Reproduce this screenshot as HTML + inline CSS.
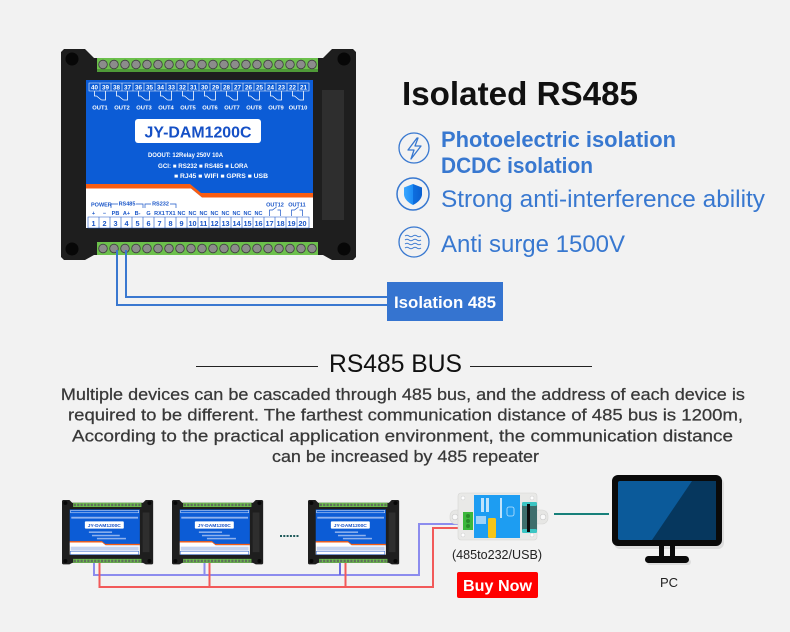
<!DOCTYPE html>
<html><head><meta charset="utf-8"><style>
html,body{margin:0;padding:0;background:#f2f2f2;}
svg{display:block;}
text{font-family:"Liberation Sans",sans-serif;}
</style></head><body>
<svg width="790" height="632" viewBox="0 0 790 632" xmlns="http://www.w3.org/2000/svg">
<rect width="790" height="632" fill="#f2f2f2"/>

<!-- MAIN DEVICE -->
<g transform="translate(61,49)">
<polygon points="0,3 3,0 24,0 33,9 262,9 271,0 292,0 295,3 295,208 292,211 271,211 262,206 33,206 24,211 3,211 0,208" fill="#1e1e1e"/>
<circle cx="11" cy="10" r="6.5" fill="#070707"/><circle cx="283" cy="10" r="6.5" fill="#070707"/>
<circle cx="11" cy="200" r="6.5" fill="#070707"/><circle cx="283" cy="200" r="6.5" fill="#070707"/>
<rect x="261" y="41" width="22" height="130" fill="#2e2e2e"/>
<rect x="36" y="9" width="221" height="14" fill="#6cc04c"/>
<rect x="36" y="20" width="221" height="3" fill="#4f9a38"/>
<g fill="#8c8c8c" stroke="#3e3e3e" stroke-width="0.8">
<circle cx="42" cy="15.5" r="4.3"/><circle cx="53" cy="15.5" r="4.3"/><circle cx="64" cy="15.5" r="4.3"/><circle cx="75" cy="15.5" r="4.3"/><circle cx="86" cy="15.5" r="4.3"/><circle cx="97" cy="15.5" r="4.3"/><circle cx="108" cy="15.5" r="4.3"/><circle cx="119" cy="15.5" r="4.3"/><circle cx="130" cy="15.5" r="4.3"/><circle cx="141" cy="15.5" r="4.3"/><circle cx="152" cy="15.5" r="4.3"/><circle cx="163" cy="15.5" r="4.3"/><circle cx="174" cy="15.5" r="4.3"/><circle cx="185" cy="15.5" r="4.3"/><circle cx="196" cy="15.5" r="4.3"/><circle cx="207" cy="15.5" r="4.3"/><circle cx="218" cy="15.5" r="4.3"/><circle cx="229" cy="15.5" r="4.3"/><circle cx="240" cy="15.5" r="4.3"/><circle cx="251" cy="15.5" r="4.3"/>
</g>
<rect x="36" y="193" width="221" height="13" fill="#6cc04c"/>
<g fill="#8c8c8c" stroke="#3e3e3e" stroke-width="0.8">
<circle cx="42" cy="199.5" r="4.3"/><circle cx="53" cy="199.5" r="4.3"/><circle cx="64" cy="199.5" r="4.3"/><circle cx="75" cy="199.5" r="4.3"/><circle cx="86" cy="199.5" r="4.3"/><circle cx="97" cy="199.5" r="4.3"/><circle cx="108" cy="199.5" r="4.3"/><circle cx="119" cy="199.5" r="4.3"/><circle cx="130" cy="199.5" r="4.3"/><circle cx="141" cy="199.5" r="4.3"/><circle cx="152" cy="199.5" r="4.3"/><circle cx="163" cy="199.5" r="4.3"/><circle cx="174" cy="199.5" r="4.3"/><circle cx="185" cy="199.5" r="4.3"/><circle cx="196" cy="199.5" r="4.3"/><circle cx="207" cy="199.5" r="4.3"/><circle cx="218" cy="199.5" r="4.3"/><circle cx="229" cy="199.5" r="4.3"/><circle cx="240" cy="199.5" r="4.3"/><circle cx="251" cy="199.5" r="4.3"/>
</g>
<rect x="25" y="31" width="227" height="118" fill="#0c5cd6"/>
<polygon points="25,135 129,135 140,144 252,144 252,148.5 141,148.5 130,139.5 25,139.5" fill="#f95d12"/>
<polygon points="25,139.5 130,139.5 141,148.5 252,148.5 252,179 25,179" fill="#ffffff"/>
<path d="M28,34h220v8h-220z M39,34v8M50,34v8M61,34v8M72,34v8M83,34v8M94,34v8M105,34v8M116,34v8M127,34v8M138,34v8M149,34v8M160,34v8M171,34v8M182,34v8M193,34v8M204,34v8M215,34v8M226,34v8M237,34v8" fill="none" stroke="#fff" stroke-width="0.6"/>
<text y="40.6" font-size="6.3" font-weight="bold" fill="#fff" text-anchor="middle"><tspan x="33.5">40</tspan><tspan x="44.5">39</tspan><tspan x="55.5">38</tspan><tspan x="66.5">37</tspan><tspan x="77.5">36</tspan><tspan x="88.5">35</tspan><tspan x="99.5">34</tspan><tspan x="110.5">33</tspan><tspan x="121.5">32</tspan><tspan x="132.5">31</tspan><tspan x="143.5">30</tspan><tspan x="154.5">29</tspan><tspan x="165.5">28</tspan><tspan x="176.5">27</tspan><tspan x="187.5">26</tspan><tspan x="198.5">25</tspan><tspan x="209.5">24</tspan><tspan x="220.5">23</tspan><tspan x="231.5">22</tspan><tspan x="242.5">21</tspan></text>
<path d="M33.5,42V47h2l5,4M44.5,42V51h-4 M55.5,42V47h2l5,4M66.5,42V51h-4 M77.5,42V47h2l5,4M88.5,42V51h-4 M99.5,42V47h2l5,4M110.5,42V51h-4 M121.5,42V47h2l5,4M132.5,42V51h-4 M143.5,42V47h2l5,4M154.5,42V51h-4 M165.5,42V47h2l5,4M176.5,42V51h-4 M187.5,42V47h2l5,4M198.5,42V51h-4 M209.5,42V47h2l5,4M220.5,42V51h-4 M231.5,42V47h2l5,4M242.5,42V51h-4" fill="none" stroke="#fff" stroke-width="0.8"/>
<text y="60.5" font-size="5.8" font-weight="bold" fill="#fff" text-anchor="middle"><tspan x="39">OUT1</tspan><tspan x="61">OUT2</tspan><tspan x="83">OUT3</tspan><tspan x="105">OUT4</tspan><tspan x="127">OUT5</tspan><tspan x="149">OUT6</tspan><tspan x="171">OUT7</tspan><tspan x="193">OUT8</tspan><tspan x="215">OUT9</tspan><tspan x="237">OUT10</tspan></text>
<rect x="74" y="70" width="126" height="24" rx="3" fill="#fff"/>
<text x="137" y="88.5" font-size="16" font-weight="bold" fill="#1550c6" text-anchor="middle" textLength="107" lengthAdjust="spacingAndGlyphs">JY-DAM1200C</text>
<text x="87" y="108" font-size="6" font-weight="bold" fill="#fff" textLength="75" lengthAdjust="spacingAndGlyphs">DOOUT: 12Relay 250V 10A</text>
<text x="97" y="119" font-size="6" font-weight="bold" fill="#fff" textLength="90" lengthAdjust="spacingAndGlyphs">GCI: ■ RS232 ■ RS485 ■ LORA</text>
<text x="113" y="129" font-size="6" font-weight="bold" fill="#fff" textLength="94" lengthAdjust="spacingAndGlyphs">■ RJ45 ■ WIFI ■ GPRS ■ USB</text>
<g fill="#1a56c8" font-weight="bold" font-size="5.5">
<text x="30" y="157.5">POWER</text>
<text x="66" y="156.5" text-anchor="middle">RS485</text>
<text x="99.5" y="156.5" text-anchor="middle">RS232</text>
<text x="214" y="157.5" text-anchor="middle">OUT12</text>
<text x="236" y="157.5" text-anchor="middle">OUT11</text>
<text y="166" text-anchor="middle"><tspan x="32.5">+</tspan><tspan x="43.5">−</tspan><tspan x="54.5">PB</tspan><tspan x="65.5">A+</tspan><tspan x="76.5">B-</tspan><tspan x="87.5">G</tspan><tspan x="98.5">RX1</tspan><tspan x="109.5">TX1</tspan><tspan x="120.5">NC</tspan><tspan x="131.5">NC</tspan><tspan x="142.5">NC</tspan><tspan x="153.5">NC</tspan><tspan x="164.5">NC</tspan><tspan x="175.5">NC</tspan><tspan x="186.5">NC</tspan><tspan x="197.5">NC</tspan></text>
</g>
<path d="M50,159V155H57M75,155H82V159M84,159V155H90M109,155H115V159 M208.5,167V161h3l4,-3M219.5,167V161h-3M230.5,167V161h3l4,-3M241.5,167V161h-3" fill="none" stroke="#1a56c8" stroke-width="0.7"/>
<path d="M27,168h221v11h-221z M38,168v11M49,168v11M60,168v11M71,168v11M82,168v11M93,168v11M104,168v11M115,168v11M126,168v11M137,168v11M148,168v11M159,168v11M170,168v11M181,168v11M192,168v11M203,168v11M214,168v11M225,168v11M236,168v11" fill="none" stroke="#1a56c8" stroke-width="0.6"/>
<text y="176.8" font-size="7.3" font-weight="bold" fill="#1a56c8" text-anchor="middle"><tspan x="32.5">1</tspan><tspan x="43.5">2</tspan><tspan x="54.5">3</tspan><tspan x="65.5">4</tspan><tspan x="76.5">5</tspan><tspan x="87.5">6</tspan><tspan x="98.5">7</tspan><tspan x="109.5">8</tspan><tspan x="120.5">9</tspan><tspan x="131.5">10</tspan><tspan x="142.5">11</tspan><tspan x="153.5">12</tspan><tspan x="164.5">13</tspan><tspan x="175.5">14</tspan><tspan x="186.5">15</tspan><tspan x="197.5">16</tspan><tspan x="208.5">17</tspan><tspan x="219.5">18</tspan><tspan x="230.5">19</tspan><tspan x="241.5">20</tspan></text>
</g>

<!-- main wires -->
<polyline points="117,250 117,305 388,305" fill="none" stroke="#3a78d0" stroke-width="2"/>
<polyline points="126,250 126,297 388,297" fill="none" stroke="#3a78d0" stroke-width="2"/>
<rect x="387" y="282" width="116" height="39" fill="#3574d0"/>
<text x="445" y="308" font-size="17" font-weight="bold" fill="#fff" text-anchor="middle" textLength="102" lengthAdjust="spacingAndGlyphs">Isolation 485</text>

<!-- right texts -->
<text x="402" y="105" font-size="33" font-weight="bold" fill="#111" textLength="236" lengthAdjust="spacingAndGlyphs">Isolated RS485</text>
<circle cx="414" cy="148" r="15" fill="none" stroke="#3878d0" stroke-width="1.3"/>
<path d="M417,138 L408,150 L414,150 L411,159 L421,146 L415,146 L418,138 Z" fill="none" stroke="#3878d0" stroke-width="1.3" stroke-linejoin="round"/>
<text x="441" y="147" font-size="22" font-weight="bold" fill="#3878d0" textLength="235" lengthAdjust="spacingAndGlyphs">Photoelectric isolation</text>
<text x="441" y="173" font-size="22" font-weight="bold" fill="#3878d0" textLength="152" lengthAdjust="spacingAndGlyphs">DCDC isolation</text>
<defs><linearGradient id="sg" x1="0" y1="0" x2="1" y2="0"><stop offset="0" stop-color="#3aa6ff"/><stop offset="0.5" stop-color="#1c8cf5"/><stop offset="0.5" stop-color="#0d6fe0"/><stop offset="1" stop-color="#0a5fd0"/></linearGradient></defs>
<circle cx="413" cy="194" r="16" fill="none" stroke="#3878d0" stroke-width="1.5"/>
<path d="M413,184 L422,187.5 L422,195 Q421,201 413,205 Q405,201 404,195 L404,187.5 Z" fill="url(#sg)"/>
<text x="441" y="207" font-size="24" fill="#3878d0" textLength="324" lengthAdjust="spacingAndGlyphs">Strong anti-interference ability</text>
<circle cx="414" cy="242" r="15" fill="none" stroke="#3878d0" stroke-width="1.3"/>
<path d="M405,236 q2,-1.5 4,0 t4,0 t4,0 t4,0 M405,240 q2,-1.5 4,0 t4,0 t4,0 t4,0 M405,244 q2,-1.5 4,0 t4,0 t4,0 t4,0 M405,248 q2,-1.5 4,0 t4,0 t4,0 t4,0" fill="none" stroke="#3878d0" stroke-width="1"/>
<text x="441" y="252" font-size="24" fill="#3878d0" textLength="184" lengthAdjust="spacingAndGlyphs">Anti surge 1500V</text>

<!-- RS485 BUS -->
<line x1="196" y1="366.5" x2="318" y2="366.5" stroke="#222" stroke-width="1"/>
<line x1="470" y1="366.5" x2="592" y2="366.5" stroke="#222" stroke-width="1"/>
<text x="395.5" y="372" font-size="25" fill="#111" text-anchor="middle" textLength="133" lengthAdjust="spacingAndGlyphs">RS485 BUS</text>

<g font-size="17" fill="#383838" stroke="#383838" stroke-width="0.25" text-anchor="middle">
<text x="402.9" y="400" textLength="684" lengthAdjust="spacingAndGlyphs">Multiple devices can be cascaded through 485 bus, and the address of each device is</text>
<text x="405.5" y="420.7" textLength="675" lengthAdjust="spacingAndGlyphs">required to be different. The farthest communication distance of 485 bus is 1200m,</text>
<text x="402.5" y="441.5" textLength="661" lengthAdjust="spacingAndGlyphs">According to the practical application environment, the communication distance</text>
<text x="405.5" y="462" textLength="267" lengthAdjust="spacingAndGlyphs">can be increased by 485 repeater</text>
</g>

<!-- small devices -->
<g transform="translate(62,500) scale(0.309,0.305)">
<polygon points="0,3 3,0 24,0 33,9 262,9 271,0 292,0 295,3 295,208 292,211 271,211 262,206 33,206 24,211 3,211 0,208" fill="#1e1e1e"/>
<rect x="36" y="9" width="221" height="14" fill="#6cc04c"/><line x1="38" y1="16" x2="256" y2="16" stroke="#5f6f5c" stroke-width="8" stroke-dasharray="7 4"/>
<rect x="36" y="193" width="221" height="13" fill="#6cc04c"/><line x1="38" y1="199.5" x2="256" y2="199.5" stroke="#5f6f5c" stroke-width="8" stroke-dasharray="7 4"/>
<rect x="261" y="41" width="22" height="130" fill="#2e2e2e"/>
<circle cx="11" cy="10" r="6.5" fill="#070707"/><circle cx="283" cy="10" r="6.5" fill="#070707"/><circle cx="11" cy="200" r="6.5" fill="#070707"/><circle cx="283" cy="200" r="6.5" fill="#070707"/>
<rect x="25" y="31" width="227" height="118" fill="#0c5cd6"/>
<polygon points="25,135 129,135 140,144 252,144 252,148.5 141,148.5 130,139.5 25,139.5" fill="#f95d12"/>
<polygon points="25,139.5 130,139.5 141,148.5 252,148.5 252,179 25,179" fill="#fff"/>
<rect x="28" y="34" width="220" height="8" fill="none" stroke="#fff" stroke-width="1.5"/>
<rect x="30" y="55" width="216" height="6" fill="#8fb2ee"/>
<rect x="74" y="70" width="126" height="24" rx="3" fill="#fff"/>
<text x="137" y="88.5" font-size="16" font-weight="bold" fill="#1550c6" text-anchor="middle" textLength="107" lengthAdjust="spacingAndGlyphs">JY-DAM1200C</text>
<rect x="87" y="103" width="75" height="5" fill="#8fb2ee"/><rect x="97" y="114" width="90" height="5" fill="#8fb2ee"/><rect x="113" y="124" width="94" height="5" fill="#8fb2ee"/>
<rect x="28" y="153" width="220" height="13" fill="#c4d2ee"/>
<rect x="27" y="168" width="221" height="11" fill="none" stroke="#1a56c8" stroke-width="1.5"/>
</g>
<g transform="translate(172,500) scale(0.309,0.305)">
<polygon points="0,3 3,0 24,0 33,9 262,9 271,0 292,0 295,3 295,208 292,211 271,211 262,206 33,206 24,211 3,211 0,208" fill="#1e1e1e"/>
<rect x="36" y="9" width="221" height="14" fill="#6cc04c"/><line x1="38" y1="16" x2="256" y2="16" stroke="#5f6f5c" stroke-width="8" stroke-dasharray="7 4"/>
<rect x="36" y="193" width="221" height="13" fill="#6cc04c"/><line x1="38" y1="199.5" x2="256" y2="199.5" stroke="#5f6f5c" stroke-width="8" stroke-dasharray="7 4"/>
<rect x="261" y="41" width="22" height="130" fill="#2e2e2e"/>
<circle cx="11" cy="10" r="6.5" fill="#070707"/><circle cx="283" cy="10" r="6.5" fill="#070707"/><circle cx="11" cy="200" r="6.5" fill="#070707"/><circle cx="283" cy="200" r="6.5" fill="#070707"/>
<rect x="25" y="31" width="227" height="118" fill="#0c5cd6"/>
<polygon points="25,135 129,135 140,144 252,144 252,148.5 141,148.5 130,139.5 25,139.5" fill="#f95d12"/>
<polygon points="25,139.5 130,139.5 141,148.5 252,148.5 252,179 25,179" fill="#fff"/>
<rect x="28" y="34" width="220" height="8" fill="none" stroke="#fff" stroke-width="1.5"/>
<rect x="30" y="55" width="216" height="6" fill="#8fb2ee"/>
<rect x="74" y="70" width="126" height="24" rx="3" fill="#fff"/>
<text x="137" y="88.5" font-size="16" font-weight="bold" fill="#1550c6" text-anchor="middle" textLength="107" lengthAdjust="spacingAndGlyphs">JY-DAM1200C</text>
<rect x="87" y="103" width="75" height="5" fill="#8fb2ee"/><rect x="97" y="114" width="90" height="5" fill="#8fb2ee"/><rect x="113" y="124" width="94" height="5" fill="#8fb2ee"/>
<rect x="28" y="153" width="220" height="13" fill="#c4d2ee"/>
<rect x="27" y="168" width="221" height="11" fill="none" stroke="#1a56c8" stroke-width="1.5"/>
</g>
<g transform="translate(308,500) scale(0.309,0.305)">
<polygon points="0,3 3,0 24,0 33,9 262,9 271,0 292,0 295,3 295,208 292,211 271,211 262,206 33,206 24,211 3,211 0,208" fill="#1e1e1e"/>
<rect x="36" y="9" width="221" height="14" fill="#6cc04c"/><line x1="38" y1="16" x2="256" y2="16" stroke="#5f6f5c" stroke-width="8" stroke-dasharray="7 4"/>
<rect x="36" y="193" width="221" height="13" fill="#6cc04c"/><line x1="38" y1="199.5" x2="256" y2="199.5" stroke="#5f6f5c" stroke-width="8" stroke-dasharray="7 4"/>
<rect x="261" y="41" width="22" height="130" fill="#2e2e2e"/>
<circle cx="11" cy="10" r="6.5" fill="#070707"/><circle cx="283" cy="10" r="6.5" fill="#070707"/><circle cx="11" cy="200" r="6.5" fill="#070707"/><circle cx="283" cy="200" r="6.5" fill="#070707"/>
<rect x="25" y="31" width="227" height="118" fill="#0c5cd6"/>
<polygon points="25,135 129,135 140,144 252,144 252,148.5 141,148.5 130,139.5 25,139.5" fill="#f95d12"/>
<polygon points="25,139.5 130,139.5 141,148.5 252,148.5 252,179 25,179" fill="#fff"/>
<rect x="28" y="34" width="220" height="8" fill="none" stroke="#fff" stroke-width="1.5"/>
<rect x="30" y="55" width="216" height="6" fill="#8fb2ee"/>
<rect x="74" y="70" width="126" height="24" rx="3" fill="#fff"/>
<text x="137" y="88.5" font-size="16" font-weight="bold" fill="#1550c6" text-anchor="middle" textLength="107" lengthAdjust="spacingAndGlyphs">JY-DAM1200C</text>
<rect x="87" y="103" width="75" height="5" fill="#8fb2ee"/><rect x="97" y="114" width="90" height="5" fill="#8fb2ee"/><rect x="113" y="124" width="94" height="5" fill="#8fb2ee"/>
<rect x="28" y="153" width="220" height="13" fill="#c4d2ee"/>
<rect x="27" y="168" width="221" height="11" fill="none" stroke="#1a56c8" stroke-width="1.5"/>
</g>

<!-- dots -->
<line x1="280" y1="536" x2="299" y2="536" stroke="#1e5a5a" stroke-width="2" stroke-dasharray="2 1.3"/>

<!-- bus wires -->
<g fill="none" stroke-width="2">
<polyline points="94,563 94,575 419,575 419,524 465,524" stroke="#8c8cee"/>
<line x1="204.5" y1="563" x2="204.5" y2="575" stroke="#8c8cee"/>
<line x1="340" y1="563" x2="340" y2="575" stroke="#6a6ae0"/>
<polyline points="99.5,563 99.5,587 433,587 433,528 465,528" stroke="#f25a5a"/>
<line x1="209.5" y1="563" x2="209.5" y2="587" stroke="#f25a5a"/>
<line x1="345.5" y1="563" x2="345.5" y2="587" stroke="#f25a5a"/>
</g>

<!-- converter -->
<rect x="450" y="510" width="14" height="14" rx="6" fill="#e6e6e4" stroke="#d6d6d4" stroke-width="0.6"/>
<rect x="533" y="510" width="15" height="14" rx="6" fill="#e6e6e4" stroke="#d6d6d4" stroke-width="0.6"/>
<circle cx="455" cy="517" r="2.8" fill="#fafafa" stroke="#c8c8c8" stroke-width="0.6"/>
<circle cx="543" cy="517" r="2.8" fill="#fafafa" stroke="#c8c8c8" stroke-width="0.6"/>
<rect x="458" y="493" width="79" height="47" rx="3" fill="#e9e9e7" stroke="#d6d6d4" stroke-width="0.6"/>
<circle cx="463" cy="498" r="2" fill="#fff" stroke="#ccc" stroke-width="0.5"/><circle cx="532" cy="498" r="2" fill="#fff" stroke="#ccc" stroke-width="0.5"/>
<circle cx="463" cy="535" r="2" fill="#fff" stroke="#ccc" stroke-width="0.5"/><circle cx="532" cy="535" r="2" fill="#fff" stroke="#ccc" stroke-width="0.5"/>
<rect x="474" y="495" width="46" height="43" fill="#1d9df2"/>
<rect x="481" y="498" width="3" height="14" fill="#bfe3fb"/><rect x="486" y="498" width="3" height="14" fill="#bfe3fb"/>
<rect x="500" y="498" width="2" height="20" fill="#bfe3fb"/><rect x="507" y="507" width="7" height="9" rx="2" fill="none" stroke="#bfe3fb" stroke-width="0.8"/>
<rect x="476" y="516" width="10" height="8" fill="#9fd3f8"/>
<rect x="488" y="518" width="8" height="20" rx="1.5" fill="#f5c518"/>
<rect x="522" y="502" width="15" height="31" rx="2" fill="#3e6e6c"/>
<rect x="522" y="502" width="15" height="4" rx="1.5" fill="#3cc6c4"/>
<rect x="522" y="529" width="15" height="4" rx="1.5" fill="#3cc6c4"/>
<rect x="527" y="504" width="3" height="28" fill="#0d0d0d"/>
<rect x="463" y="512" width="10" height="18" fill="#3cb83c"/>
<circle cx="468" cy="516" r="2" fill="#2a8a2a"/><circle cx="468" cy="521" r="2" fill="#2a8a2a"/><circle cx="468" cy="526" r="2" fill="#2a8a2a"/>
<text x="497" y="559" font-size="12.5" fill="#222" text-anchor="middle" textLength="90" lengthAdjust="spacingAndGlyphs">(485to232/USB)</text>
<rect x="457" y="572" width="81" height="26" rx="2" fill="#ff0000"/>
<text x="497.5" y="591" font-size="16" font-weight="bold" fill="#fff" text-anchor="middle" textLength="69" lengthAdjust="spacingAndGlyphs">Buy Now</text>

<!-- teal link -->
<line x1="554" y1="514" x2="609" y2="514" stroke="#17807a" stroke-width="2"/>

<!-- PC -->
<rect x="614" y="478" width="110" height="71" rx="6" fill="#cfcfcf" opacity="0.6"/>
<rect x="612" y="475" width="110" height="71" rx="6" fill="#0a0a0a"/>
<rect x="618" y="481" width="98" height="59" rx="2" fill="#0b5a9a"/>
<polygon points="692,481 716,481 716,540 652,540" fill="#06375e"/>
<rect x="659" y="546" width="5" height="11" fill="#0a0a0a"/>
<rect x="670" y="546" width="5" height="11" fill="#0a0a0a"/>
<rect x="647" y="559" width="44" height="6" rx="3" fill="#cfcfcf" opacity="0.6"/>
<rect x="645" y="556" width="44" height="7" rx="3.5" fill="#0a0a0a"/>
<text x="669" y="587" font-size="13" fill="#222" text-anchor="middle">PC</text>
</svg>
</body></html>
